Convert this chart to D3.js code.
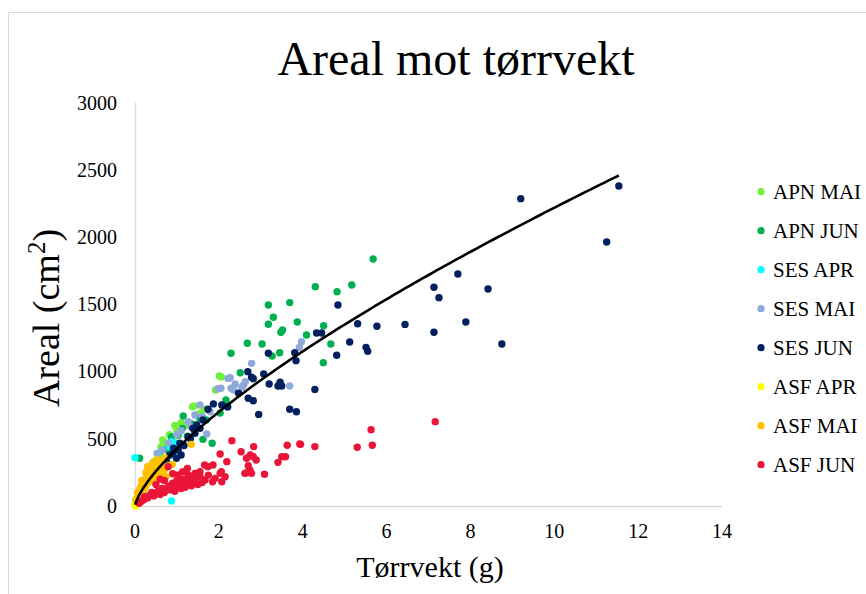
<!DOCTYPE html>
<html>
<head>
<meta charset="utf-8">
<script src="https://cdn.jsdelivr.net/npm/d3@7"></script>
<style>
  html, body { margin: 0; padding: 0; background: #fff; }
  svg { display: block; }
  text { font-family: "Liberation Serif", "Times New Roman", serif; fill: #000; }
</style>
</head>
<body>
<svg id="chart" width="866" height="594"></svg>
<script>
// Tørrvekt (g) vs areal (cm²), one series per group and month
const seriesNames = ["APN MAI", "APN JUN", "SES APR", "SES MAI", "SES JUN", "ASF APR", "ASF MAI", "ASF JUN"];
const seriesColors = ["#72f03c", "#00b050", "#00ffff", "#8eaadb", "#002060", "#ffff00", "#ffc000", "#ea1538"];

const apnMai = [[2.01,968],[1.92,863],[1.41,744],[1.37,739],[1.22,603],[0.70,467],[0.53,392],[0.66,491],
  [0.82,530],[1.00,560],[0.45,330],[0.35,290],[1.55,690],[1.65,720],[0.95,600],[0.62,440],[1.10,620],[0.28,250],[2.06,960]];

const apnJun = [[5.68,1839],[4.30,1633],[4.82,1595],[5.17,1645],[4.50,1342],[4.09,1273],[4.67,1206],[4.49,1067],
  [3.18,1496],[3.69,1514],[3.30,1405],[3.18,1353],[3.87,1370],[3.52,1310],[3.48,1293],[2.68,1211],[3.03,1206],
  [2.29,1137],[3.45,1141],[3.27,1117],[2.51,992],[2.17,789],[2.03,692],[1.84,467],[1.62,496],[1.15,670],
  [1.13,578],[1.03,526],[0.87,514],[0.11,355],[1.45,600],[1.55,650],[0.75,420],[0.60,380],[0.95,470],
  [1.25,520],[1.70,640],[1.35,610],[0.40,300]];

const sesApr = [[0.00,360],[0.87,37],[0.87,479],[0.93,467],[0.95,454],[0.82,440],[0.60,360],[0.05,15],[0.12,80],[0.02,30]];

const sesMai = [[3.97,1223],[3.92,1181],[2.78,1062],[2.27,955],[2.39,908],[2.29,876],[2.35,864],[2.63,925],
  [2.59,901],[2.55,884],[3.69,893],[2.21,735],[2.05,876],[1.98,873],[1.55,752],[1.61,665],[1.43,677],
  [1.79,702],[1.71,536],[1.27,628],[1.34,590],[0.65,417],[0.53,392],[2.22,950],[1.00,530],[1.10,560],[0.80,470]];

const sesJun = [[9.20,2288],[11.54,2382],[11.25,1965],[7.70,1727],[8.42,1615],[7.89,1370],[8.75,1206],
  [7.13,1628],[7.25,1551],[7.13,1293],[6.44,1352],[5.77,1338],[5.31,1357],[5.12,1221],[5.51,1181],[5.55,1152],
  [4.84,1496],[4.81,1122],[4.33,1288],[4.45,1288],[4.29,868],
  [3.18,1137],[3.81,1141],[3.84,1082],[2.69,1000],[2.78,958],[2.82,948],[3.07,983],[3.20,908],[3.46,921],
  [3.50,893],[3.41,893],[2.47,839],[2.70,802],[2.82,784],[2.07,752],[2.21,739],[3.69,720],[3.85,702],[2.95,682],
  [1.74,720],[1.47,603],[1.55,578],[1.38,578],[1.27,516],[1.43,541],[1.07,467],[1.03,417],[0.90,392],
  [0.99,355],[0.75,342],[1.10,380],[0.83,380],[1.62,640],[1.17,450],[1.32,500],[0.92,430],[1.87,760]];

const asfApr = [[0.01,5],[0.03,20],[0.05,40],[0.04,10],[0.08,60],[0.10,80],[0.12,50],[0.06,30],
  [0.15,110],[0.01,0],[0.20,130],[0.07,90],[0.10,25],[0.00,15],[0.03,50]];

const asfMai = [[0.02,45],[0.18,144],[0.34,218],[0.50,256],[0.66,293],[0.74,218],[0.30,293],[0.42,318],[1.34,459],
  [0.05,60],[0.08,90],[0.10,110],[0.12,130],[0.15,150],[0.20,170],[0.22,190],[0.25,200],[0.28,230],[0.32,250],
  [0.36,270],[0.40,240],[0.45,280],[0.48,300],[0.55,320],[0.60,330],[0.65,340],[0.70,360],[0.12,70],[0.20,110],
  [0.25,140],[0.30,170],[0.38,190],[0.45,210],[0.55,230],[0.62,250],[0.70,270],[0.80,300],[0.89,310],
  [0.06,100],[0.16,190],[0.26,250],[0.52,345]];

const asfJun = [[7.16,628],[5.63,568],[5.66,452],[5.30,437],[4.29,442],[3.95,459],[2.31,486],[2.83,442],
  [3.63,452],[3.93,462],[2.53,404],[2.75,380],[2.66,355],[2.89,342],[2.82,367],[2.19,330],[2.70,300],
  [2.74,268],[2.62,243],[2.78,243],[2.67,248],[3.50,367],[3.59,367],[3.41,325],[3.09,236],[2.03,243],
  [2.07,181],[2.03,387],[1.66,305],[1.86,305],[1.55,255],[1.43,243],[1.27,231],[1.31,194],[0.79,293],
  [1.03,231],[1.14,256],[1.74,293],[2.06,256],
  [0.23,69],[0.47,94],[0.71,119],[0.95,144],[1.19,169],[1.43,181],[1.67,194],[1.91,206],[2.15,218],
  [0.10,20],[0.15,35],[0.20,45],[0.30,60],[0.35,80],[0.40,100],[0.45,75],[0.55,110],[0.60,85],[0.65,130],
  [0.70,100],[0.80,150],[0.85,120],[0.90,170],[0.95,110],[1.00,190],[1.05,160],[1.10,130],[1.15,200],
  [1.20,140],[1.30,180],[1.35,150],[1.40,210],[1.50,160],[1.55,220],[1.60,175],[1.75,230],[1.85,180],
  [0.60,200],[0.90,240],[1.25,280],[0.50,160],[0.70,190]];

const seriesData = [apnMai, apnJun, sesApr, sesMai, sesJun, asfApr, asfMai, asfJun];

const xTicks = [0, 2, 4, 6, 8, 10, 12, 14];
const yTicks = [0, 500, 1000, 1500, 2000, 2500, 3000];

// Power trendline y = a·x^b over the whole data set
const trendA = 426, trendB = 0.717;
const trendXMin = 0.005, trendXMax = 11.54;

const svg = d3.select("#chart");

// chart frame
svg.append("rect")
  .attr("x", 8.5).attr("y", 12.5).attr("width", 900).attr("height", 700)
  .attr("fill", "#fff").attr("stroke", "#d9d9d9").attr("stroke-width", 1);

const x = d3.scaleLinear().domain([0, 14]).range([135, 722]);
const y = d3.scaleLinear().domain([0, 3000]).range([506, 103]);
const fmt = d3.format("d");

// axis lines
svg.append("line").attr("x1", 135).attr("x2", 722).attr("y1", 506.5).attr("y2", 506.5)
  .attr("stroke", "#d9d9d9").attr("stroke-width", 1.3);
svg.append("line").attr("x1", 135.5).attr("x2", 135.5).attr("y1", 103).attr("y2", 506)
  .attr("stroke", "#d9d9d9").attr("stroke-width", 1.3);

// tick labels
svg.append("g").selectAll("text").data(xTicks).join("text")
  .attr("x", d => x(d)).attr("y", 538).attr("text-anchor", "middle")
  .attr("font-size", 20).text(fmt);

svg.append("g").selectAll("text").data(yTicks).join("text")
  .attr("x", 117).attr("y", d => y(d)).attr("dy", "0.34em").attr("text-anchor", "end")
  .attr("font-size", 20).text(fmt);

// points
const plot = svg.append("g");
seriesData.forEach((pts, i) => {
  plot.append("g").selectAll("circle").data(pts).join("circle")
    .attr("cx", d => x(d[0])).attr("cy", d => y(d[1]))
    .attr("r", 3.7).attr("fill", seriesColors[i]);
});

// trendline
const trendXs = d3.range(0, 201).map(k => trendXMin + (trendXMax - trendXMin) * Math.pow(k / 200, 2));
const line = d3.line().x(d => x(d)).y(d => y(trendA * Math.pow(d, trendB)));
svg.append("path").datum(trendXs).attr("d", line)
  .attr("fill", "none").attr("stroke", "#000").attr("stroke-width", 2.6);

// title and axis titles
svg.append("text").attr("x", 456).attr("y", 75).attr("text-anchor", "middle")
  .attr("font-size", 48).text("Areal mot tørrvekt");

svg.append("text").attr("x", 430).attr("y", 577).attr("text-anchor", "middle")
  .attr("font-size", 30).text("Tørrvekt (g)");

const yTitle = svg.append("text").attr("transform", "translate(59,318) rotate(-90)")
  .attr("text-anchor", "middle").attr("font-size", 38);
yTitle.append("tspan").text("Areal (cm");
yTitle.append("tspan").attr("font-size", 25).attr("dy", -14).text("2");
yTitle.append("tspan").attr("dy", 14).text(")");

// legend
const legend = svg.append("g");
seriesNames.forEach((name, i) => {
  const cy = 191.7 + i * 39.0;
  legend.append("circle").attr("cx", 761).attr("cy", cy).attr("r", 3.6).attr("fill", seriesColors[i]);
  legend.append("text").attr("x", 773).attr("y", cy).attr("dy", "0.35em")
    .attr("font-size", 21).text(name);
});
</script>
</body>
</html>
